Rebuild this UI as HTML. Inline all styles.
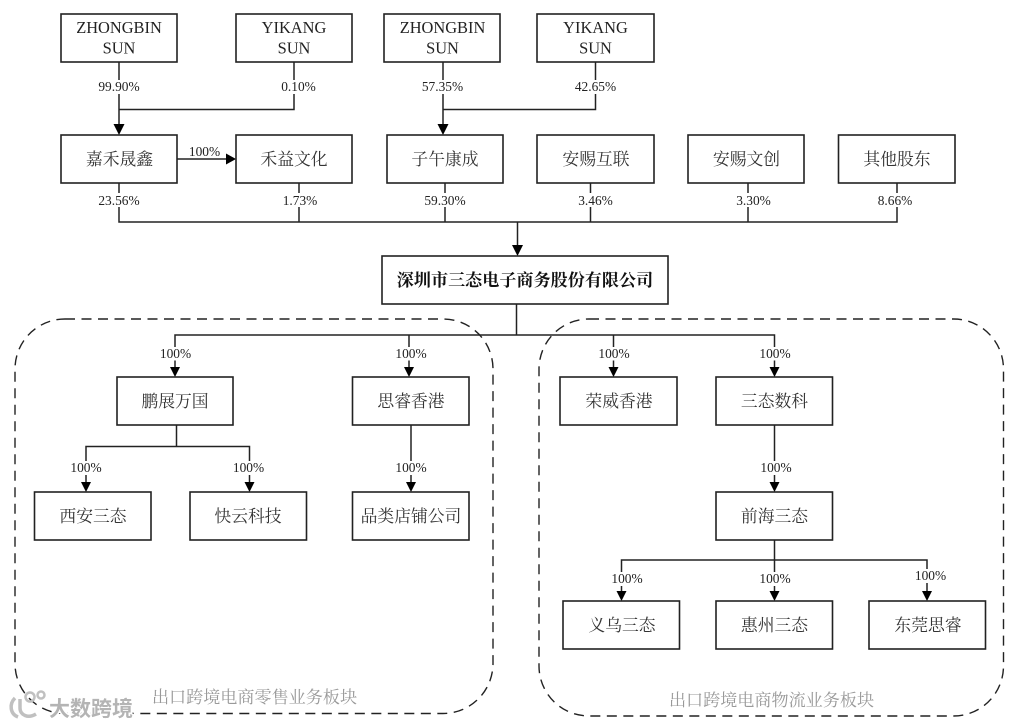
<!DOCTYPE html>
<html>
<head>
<meta charset="utf-8">
<style>
html,body{margin:0;padding:0;background:#fff;width:1012px;height:726px;overflow:hidden}
svg{display:block;filter:blur(0.3px)}
.b{fill:#fff;stroke:#222;stroke-width:1.6}
.l{fill:none;stroke:#222;stroke-width:1.5}
.a{fill:#000}
.d{fill:none;stroke:#222;stroke-width:1.4;stroke-dasharray:10 6.5}
.w{fill:#fff}
text{text-anchor:middle}
.e{font:16.4px "Liberation Serif","Noto Serif CJK SC",serif;fill:#222}
.p{font:13.4px "Liberation Serif","Noto Serif CJK SC",serif;fill:#222}
.c{font:16.8px "Liberation Serif","Noto Serif CJK SC",serif;fill:#333}
.m{font:bold 17.1px "Liberation Serif","Noto Serif CJK SC",serif;fill:#111}
.g{font:17.1px "Liberation Serif","Noto Serif CJK SC",serif;fill:#999}
.k{font:bold 21px "Liberation Sans","Noto Sans CJK SC",sans-serif;fill:#b4b4b4;stroke:#fff;stroke-width:3px;paint-order:stroke;text-anchor:start}
</style>
</head>
<body>
<svg width="1012" height="726" viewBox="0 0 1012 726" xmlns="http://www.w3.org/2000/svg">
<rect width="1012" height="726" fill="#fff"/>

<!-- dashed groups -->
<rect class="d" x="15" y="319" width="478" height="394.5" rx="50" ry="50"/>
<rect class="d" x="539" y="319" width="464.5" height="397" rx="50" ry="50"/>

<!-- connectors -->
<path class="l" d="M119 62V128M119 109.5H294V62"/>
<path class="l" d="M443 62V128M443 109.5H595.5V62"/>
<path class="l" d="M177 159H228"/>
<path class="l" d="M119 183V222H897V183M299 183V222M445 183V222M590.5 183V222M748 183V222"/>
<path class="l" d="M517.5 222V248"/>
<path class="l" d="M516.5 304V335"/>
<path class="l" d="M175 370V335H774.5V370M409 335V370M613.5 335V370"/>
<path class="l" d="M176.5 425V446.5M86 485V446.5H249.5V485"/>
<path class="l" d="M411 425V485"/>
<path class="l" d="M774.5 425V485"/>
<path class="l" d="M774.5 540V594M621.5 594V560H927V594"/>

<!-- arrowheads -->
<polygon class="a" points="113.5,124 124.5,124 119,135"/>
<polygon class="a" points="437.5,124 448.5,124 443,135"/>
<polygon class="a" points="226,153.5 226,164.5 236,159"/>
<polygon class="a" points="512,245 523,245 517.5,256"/>
<polygon class="a" points="170,367 180,367 175,377"/>
<polygon class="a" points="404,367 414,367 409,377"/>
<polygon class="a" points="608.5,367 618.5,367 613.5,377"/>
<polygon class="a" points="769.5,367 779.5,367 774.5,377"/>
<polygon class="a" points="81,482 91,482 86,492"/>
<polygon class="a" points="244.5,482 254.5,482 249.5,492"/>
<polygon class="a" points="406,482 416,482 411,492"/>
<polygon class="a" points="769.5,482 779.5,482 774.5,492"/>
<polygon class="a" points="616.5,591 626.5,591 621.5,601"/>
<polygon class="a" points="769.5,591 779.5,591 774.5,601"/>
<polygon class="a" points="922,591 932,591 927,601"/>

<!-- label halos -->
<rect class="w" x="92" y="80" width="54" height="14"/>
<rect class="w" x="275" y="80" width="48" height="14"/>
<rect class="w" x="416" y="80" width="54" height="14"/>
<rect class="w" x="569" y="80" width="54" height="14"/>
<rect class="w" x="92" y="193" width="54" height="14"/>
<rect class="w" x="276" y="193" width="48" height="14"/>
<rect class="w" x="418" y="193" width="54" height="14"/>
<rect class="w" x="572" y="193" width="48" height="14"/>
<rect class="w" x="730" y="193" width="48" height="14"/>
<rect class="w" x="871" y="193" width="48" height="14"/>
<rect class="w" x="156" y="347" width="40" height="13.5"/>
<rect class="w" x="391" y="347" width="40" height="13.5"/>
<rect class="w" x="594" y="347" width="40" height="13.5"/>
<rect class="w" x="755" y="347" width="40" height="13.5"/>
<rect class="w" x="66" y="461" width="40" height="14"/>
<rect class="w" x="229" y="461" width="40" height="14"/>
<rect class="w" x="391" y="461" width="40" height="14"/>
<rect class="w" x="756" y="461" width="40" height="14"/>
<rect class="w" x="607" y="572" width="40" height="14"/>
<rect class="w" x="755" y="572" width="40" height="14"/>
<rect class="w" x="910" y="569" width="40" height="14"/>

<!-- boxes -->
<rect class="b" x="61" y="14" width="116" height="48"/>
<rect class="b" x="236" y="14" width="116" height="48"/>
<rect class="b" x="384" y="14" width="116" height="48"/>
<rect class="b" x="537" y="14" width="117" height="48"/>
<rect class="b" x="61" y="135" width="116" height="48"/>
<rect class="b" x="236" y="135" width="116" height="48"/>
<rect class="b" x="387" y="135" width="116" height="48"/>
<rect class="b" x="537" y="135" width="117" height="48"/>
<rect class="b" x="688" y="135" width="116" height="48"/>
<rect class="b" x="838.5" y="135" width="116.5" height="48"/>
<rect class="b" x="382" y="256" width="286" height="48"/>
<rect class="b" x="117" y="377" width="116" height="48"/>
<rect class="b" x="352.5" y="377" width="116.5" height="48"/>
<rect class="b" x="560" y="377" width="117" height="48"/>
<rect class="b" x="716" y="377" width="116.5" height="48"/>
<rect class="b" x="34.5" y="492" width="116.5" height="48"/>
<rect class="b" x="190" y="492" width="116.5" height="48"/>
<rect class="b" x="352.5" y="492" width="116.5" height="48"/>
<rect class="b" x="716" y="492" width="116.5" height="48"/>
<rect class="b" x="563" y="601" width="116.5" height="48"/>
<rect class="b" x="716" y="601" width="116.5" height="48"/>
<rect class="b" x="869" y="601" width="116.5" height="48"/>

<!-- box text -->
<text class="e" x="119" y="33">ZHONGBIN</text><text class="e" x="119" y="53.5">SUN</text>
<text class="e" x="294" y="33">YIKANG</text><text class="e" x="294" y="53.5">SUN</text>
<text class="e" x="442.5" y="33">ZHONGBIN</text><text class="e" x="442.5" y="53.5">SUN</text>
<text class="e" x="595.5" y="33">YIKANG</text><text class="e" x="595.5" y="53.5">SUN</text>

<text class="c" x="119.5" y="165">嘉禾晟鑫</text>
<text class="c" x="294" y="165">禾益文化</text>
<text class="c" x="445" y="165">子午康成</text>
<text class="c" x="596" y="165">安赐互联</text>
<text class="c" x="746.5" y="165">安赐文创</text>
<text class="c" x="897" y="165">其他股东</text>
<text class="m" x="525" y="286">深圳市三态电子商务股份有限公司</text>
<text class="c" x="175" y="407">鹏展万国</text>
<text class="c" x="411" y="407">思睿香港</text>
<text class="c" x="619" y="407">荣威香港</text>
<text class="c" x="774.5" y="407">三态数科</text>
<text class="c" x="93" y="522">西安三态</text>
<text class="c" x="248" y="522">快云科技</text>
<text class="c" x="411" y="522">品类店铺公司</text>
<text class="c" x="774.5" y="522">前海三态</text>
<text class="c" x="622" y="631">义乌三态</text>
<text class="c" x="774.5" y="631">惠州三态</text>
<text class="c" x="928" y="631">东莞思睿</text>

<!-- percentages -->
<text class="p" x="119" y="91">99.90%</text>
<text class="p" x="298.5" y="91">0.10%</text>
<text class="p" x="442.5" y="91">57.35%</text>
<text class="p" x="595.5" y="91">42.65%</text>
<text class="p" x="204.5" y="156">100%</text>
<text class="p" x="119" y="205">23.56%</text>
<text class="p" x="300" y="205">1.73%</text>
<text class="p" x="445" y="205">59.30%</text>
<text class="p" x="595.5" y="205">3.46%</text>
<text class="p" x="753.5" y="205">3.30%</text>
<text class="p" x="895" y="205">8.66%</text>
<text class="p" x="175.5" y="358">100%</text>
<text class="p" x="411" y="358">100%</text>
<text class="p" x="614" y="358">100%</text>
<text class="p" x="775" y="358">100%</text>
<text class="p" x="86" y="472">100%</text>
<text class="p" x="248.5" y="472">100%</text>
<text class="p" x="411" y="472">100%</text>
<text class="p" x="776" y="472">100%</text>
<text class="p" x="627" y="583">100%</text>
<text class="p" x="775" y="583">100%</text>
<text class="p" x="930.5" y="580">100%</text>

<!-- group labels -->
<text class="g" x="254.5" y="703">出口跨境电商零售业务板块</text>
<text class="g" x="771.5" y="706">出口跨境电商物流业务板块</text>

<!-- watermark -->
<g fill="none" stroke="#c0c0c0" stroke-width="3.5">
<path d="M15 698C9 704 10 714 18 717"/>
<path d="M20 699V708C20 715 28 719 36 714"/>
<circle cx="30" cy="697" r="4.5" stroke-width="2.5"/>
<circle cx="41" cy="695" r="3.5" stroke-width="2.5"/>
</g>
<text class="k" x="49" y="716">大数跨境</text>
</svg>
</body>
</html>
